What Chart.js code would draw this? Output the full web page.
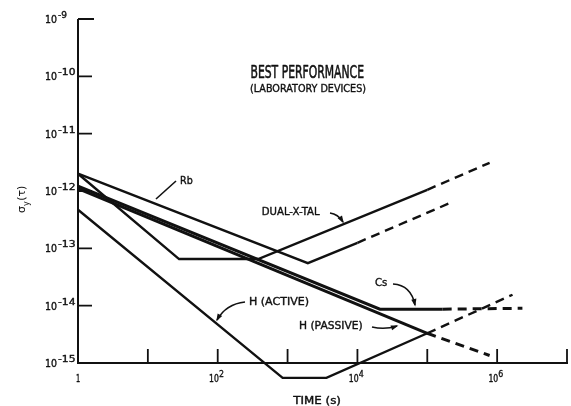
<!DOCTYPE html>
<html>
<head>
<meta charset="utf-8">
<script src="https://cdn.jsdelivr.net/npm/chart.js@4.4.1/dist/chart.umd.min.js"></script>
<style>
  html, body { margin: 0; padding: 0; background: #fff; }
  canvas { display: block; }
</style>
</head>
<body>
<canvas id="c" width="571" height="406"></canvas>
<script>
// Averaging time tau (s) and fractional frequency stability sigma_y(tau)
// at the corners of each curve.
const rbTau = [1, 1950, 1e4, 2e5];
const rbSigma = [2.0e-12, 5.5e-14, 1.25e-13, 6.0e-13];
const xtalTau = [1, 28, 380, 1e5, 7.8e5];
const xtalSigma = [2.0e-12, 6.5e-14, 6.5e-14, 1.05e-12, 3.1e-12];
const csTau = [1, 2.1e4, 1.66e5, 2.3e6];
const csSigma = [1.22e-12, 8.7e-15, 8.7e-15, 9.0e-15];
const hPassiveTau = [1, 1e5, 7.8e5];
const hPassiveSigma = [1.1e-12, 3.3e-15, 1.35e-15];
const hActiveTau = [1, 850, 3600, 1e5, 1.66e6];
const hActiveSigma = [4.7e-13, 5.5e-16, 5.5e-16, 3.3e-15, 1.55e-14];
// First point of the dashed (extrapolated) part of each curve.
const dashFrom = { rb: 2, xtal: 3, cs: 2, hPassive: 1, hActive: 3 };

// Axis decades.
const xTickValues = [10, 1e2, 1e3, 1e4, 1e5, 1e6, 1e7];
const xLabelExponents = [0, 2, 4, 6];
const yTickExponents = [-9, -10, -11, -12, -13, -14];
const yLabelExponents = [-9, -10, -11, -12, -13, -14, -15];

const INK = '#111';
const FONT = '"DejaVu Sans", "Liberation Sans", sans-serif';

function curve(tau, sigma, dashIdx, width) {
  return {
    data: tau.map((t, i) => ({ x: t, y: sigma[i] })),
    showLine: true,
    borderColor: INK,
    borderWidth: width,
    pointRadius: 0,
    fill: false,
    tension: 0,
    clip: false,
    borderJoinStyle: 'miter',
    borderCapStyle: 'butt',
    segment: {
      borderDash: ctx => (ctx.p0DataIndex >= dashIdx ? [9, 6] : undefined)
    }
  };
}

// Text squeezed horizontally to a given width, left-aligned on a baseline,
// with a thin outline to give the lettering some weight.
function fitText(ctx, str, left, baseline, size, width, stroke) {
  ctx.font = size + 'px ' + FONT;
  const w = ctx.measureText(str).width;
  ctx.save();
  ctx.translate(left, baseline);
  ctx.scale(width ? width / w : 1, 1);
  ctx.textAlign = 'left';
  ctx.textBaseline = 'alphabetic';
  ctx.fillText(str, 0, 0);
  if (stroke) {
    ctx.lineWidth = stroke;
    ctx.lineJoin = 'round';
    ctx.strokeText(str, 0, 0);
  }
  ctx.restore();
}

function arrow(ctx, from, ctrl, to, head) {
  ctx.beginPath();
  ctx.moveTo(from[0], from[1]);
  ctx.quadraticCurveTo(ctrl[0], ctrl[1], to[0], to[1]);
  ctx.stroke();
  if (!head) return;
  const a = Math.atan2(to[1] - ctrl[1], to[0] - ctrl[0]);
  const L = 6, H = 2.6;
  ctx.beginPath();
  ctx.moveTo(to[0] + Math.cos(a) * 1.5, to[1] + Math.sin(a) * 1.5);
  ctx.lineTo(to[0] - Math.cos(a) * L + Math.sin(a) * H, to[1] - Math.sin(a) * L - Math.cos(a) * H);
  ctx.lineTo(to[0] - Math.cos(a) * L - Math.sin(a) * H, to[1] - Math.sin(a) * L + Math.cos(a) * H);
  ctx.closePath();
  ctx.fill();
}

const framePlugin = {
  id: 'frame',
  beforeDatasetsDraw(chart) {
    const { ctx, scales: { x, y } } = chart;
    const x0 = x.getPixelForValue(1);
    const xr = x.getPixelForValue(1e7);
    const yb = y.getPixelForValue(1e-15);
    const yt = y.getPixelForValue(1e-9);
    ctx.save();
    ctx.strokeStyle = INK;
    ctx.fillStyle = INK;
    ctx.lineWidth = 2;
    ctx.beginPath();
    ctx.moveTo(x0, yt);
    ctx.lineTo(x0, yb);
    ctx.lineTo(xr + 1, yb);
    ctx.stroke();

    // inward tick marks
    ctx.lineWidth = 1.8;
    ctx.beginPath();
    xTickValues.forEach(v => {
      const px = x.getPixelForValue(v);
      ctx.moveTo(px, yb);
      ctx.lineTo(px, yb - 14);
    });
    yTickExponents.forEach(e => {
      const py = y.getPixelForValue(Math.pow(10, e));
      ctx.moveTo(x0, py);
      ctx.lineTo(x0 + (e === -9 ? 16 : 14), py);
    });
    ctx.stroke();

    // y tick labels: 10 with a raised exponent
    yLabelExponents.forEach(e => {
      const py = y.getPixelForValue(Math.pow(10, e));
      fitText(ctx, '10', 45, py + 4, 11, 12, 0.4);
      const s = '-' + String(-e);
      fitText(ctx, s, 58, py - 1, 8.5, s.length === 2 ? 9 : 17.5, 0.35);
    });

    // x tick labels
    xLabelExponents.forEach(e => {
      const px = x.getPixelForValue(Math.pow(10, e));
      if (e === 0) {
        fitText(ctx, '1', px - 2, yb + 19, 10, 4.2, 0.4);
      } else {
        fitText(ctx, '10', px - 8.7, yb + 19, 10, 9.8, 0.4);
        fitText(ctx, String(e), px + 1.2, yb + 14.3, 8, 5, 0.3);
      }
    });

    // axis titles
    fitText(ctx, 'TIME (s)', 293.3, 403.5, 10, 47.7, 0.4);
    ctx.save();
    ctx.translate(25, 213);
    ctx.rotate(-Math.PI / 2);
    ctx.font = '11px ' + FONT;
    const wS = ctx.measureText('\u03c3').width;
    ctx.fillText('\u03c3', 0, 0);
    ctx.font = '8px ' + FONT;
    const wY = ctx.measureText('y').width;
    ctx.fillText('y', wS, 4);
    ctx.font = '11px ' + FONT;
    ctx.fillText('(\u03c4)', wS + wY + 0.5, 0);
    ctx.restore();
    ctx.restore();
  },
  afterDatasetsDraw(chart) {
    const { ctx } = chart;
    ctx.save();
    ctx.fillStyle = INK;
    ctx.strokeStyle = INK;

    fitText(ctx, 'BEST PERFORMANCE', 250.5, 78.3, 17.5, 113.5, 0.6);
    fitText(ctx, '(LABORATORY DEVICES)', 250, 91.5, 11, 116, 0.4);
    fitText(ctx, 'Rb', 180, 184, 11, 12.7, 0.4);
    fitText(ctx, 'DUAL-X-TAL', 261.7, 215, 10.5, 58, 0.4);
    fitText(ctx, 'Cs', 375, 286, 11, 12.3, 0.4);
    fitText(ctx, 'H (ACTIVE)', 249, 305, 11, 60, 0.4);
    fitText(ctx, 'H (PASSIVE)', 299, 329, 11, 63.7, 0.4);

    ctx.lineWidth = 1.6;
    arrow(ctx, [176, 181], [166, 190], [156, 199], false);
    arrow(ctx, [330, 213], [338, 214], [343, 222], true);
    arrow(ctx, [393, 284], [411, 285], [415, 305], true);
    arrow(ctx, [245, 302], [226, 304], [217, 320], true);
    arrow(ctx, [372, 327], [385, 330], [397, 326], true);
    ctx.restore();
  }
};

new Chart(document.getElementById('c'), {
  type: 'scatter',
  data: {
    datasets: [
      curve(rbTau, rbSigma, dashFrom.rb, 2.4),
      curve(xtalTau, xtalSigma, dashFrom.xtal, 2.4),
      curve(csTau, csSigma, dashFrom.cs, 3),
      curve(hPassiveTau, hPassiveSigma, dashFrom.hPassive, 3),
      curve(hActiveTau, hActiveSigma, dashFrom.hActive, 2.4)
    ]
  },
  options: {
    responsive: false,
    animation: false,
    devicePixelRatio: 1,
    layout: { padding: { left: 78, right: 4, top: 19, bottom: 43 } },
    plugins: { legend: { display: false }, tooltip: { enabled: false }, title: { display: false } },
    scales: {
      x: { type: 'logarithmic', min: 1, max: 1e7, display: false },
      y: { type: 'logarithmic', min: 1e-15, max: 1e-9, display: false }
    }
  },
  plugins: [framePlugin]
});
</script>
</body>
</html>
